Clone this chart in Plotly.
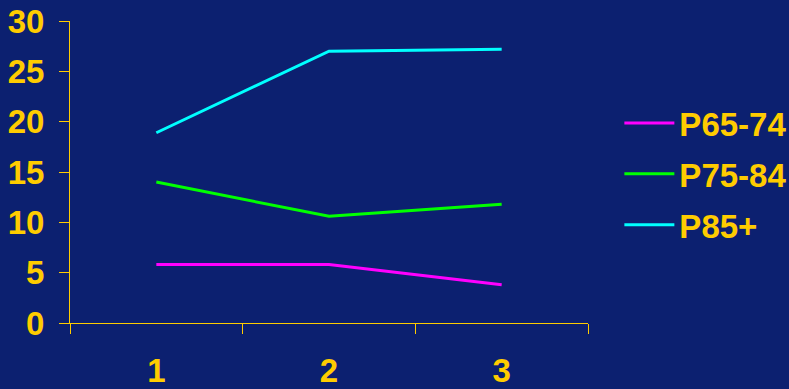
import plotly.graph_objects as go

categories = ["1", "2", "3"]
series_names = ["P65-74", "P75-84", "P85+"]
p65_74 = [5.8, 5.8, 3.8]
p75_84 = [14.0, 10.6, 11.8]
p85_plus = [18.9, 27.0, 27.2]
y_ticks = [0, 5, 10, 15, 20, 25, 30]

colors = ["#ff00ff", "#00ff00", "#00ffff"]
gold = "#ffcc00"
bg = "#0c2070"

fig = go.Figure()
for i, (name, vals) in enumerate(zip(series_names, [p65_74, p75_84, p85_plus])):
    fig.add_trace(go.Scatter(x=categories, y=vals, name=name, mode="lines",
                             line=dict(color=colors[i], width=3),
                             legendgroup=name))

font = dict(family="Liberation Sans, Arial, sans-serif", size=33, color=gold, weight="bold")

fig.update_layout(
    width=789, height=389,
    margin=dict(l=70, r=201, t=21, b=66, pad=0),
    paper_bgcolor=bg, plot_bgcolor=bg,
    font=font,
    showlegend=True,
    legend=dict(xref="container", yref="container", x=0.785, xanchor="left",
                y=0.5527, yanchor="middle",
                font=font, bgcolor="rgba(0,0,0,0)", itemwidth=50,
                tracegroupgap=5),
    xaxis=dict(type="category", range=[-0.5, 2.5], tickson="boundaries",
               ticks="outside", ticklen=10, tickcolor=gold, tickwidth=1,
               showline=True, linecolor=gold, linewidth=1, showgrid=False,
               zeroline=False, tickfont=font, ticklabelstandoff=18,
               automargin=False),
    yaxis=dict(range=[0, 30], tickvals=y_ticks, ticks="outside", ticklen=10,
               tickcolor=gold, tickwidth=1, showline=True, linecolor=gold,
               linewidth=1, showgrid=False, zeroline=False, tickfont=font,
               ticklabelstandoff=8, automargin=False),
)

fig.write_html("out.html")
